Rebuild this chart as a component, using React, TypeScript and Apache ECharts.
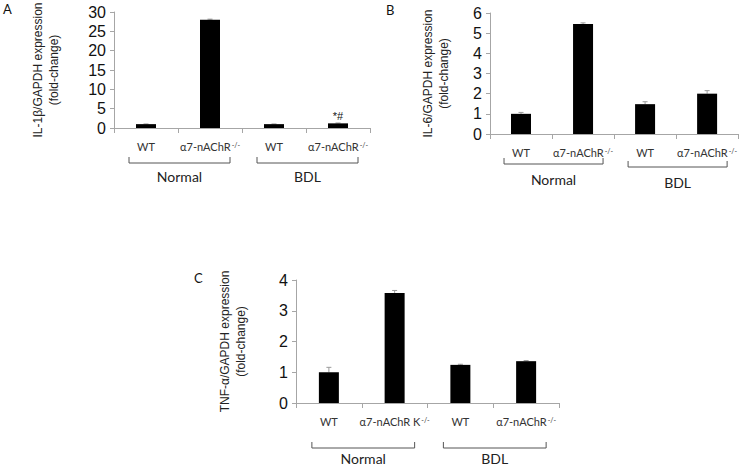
import React, { useEffect, useRef } from "react";
import * as echarts from "echarts";

// ---- data ----
const catNames = ["WT", "α7-nAChR", "WT", "α7-nAChR"];
const catNamesC = ["WT", "α7-nAChR K", "WT", "α7-nAChR"];
const groups = ["Normal", "BDL"];

const il1bValues = [1.0, 28.0, 1.0, 1.2];
const il1bErrors = [0.05, 0.15, 0.05, 0.1];
const il6Values = [1.0, 5.45, 1.48, 2.0];
const il6Errors = [0.07, 0.06, 0.12, 0.15];
const tnfValues = [1.0, 3.58, 1.24, 1.36];
const tnfErrors = [0.16, 0.08, 0.02, 0.02];

const yTicksA = { max: 30, interval: 5 };
const yTicksB = { max: 6, interval: 1 };
const yTicksC = { max: 4, interval: 1 };

const axisNames = [
  "IL-1β/GAPDH expression\n(fold-change)",
  "IL-6/GAPDH expression\n(fold-change)",
  "TNF-α/GAPDH expression\n(fold-change)",
];

const AXIS_GRAY = "#a6a6a6";
const ERR_GRAY = "#9a9a9a";

export default function App() {
  const ref = useRef<HTMLDivElement>(null);
  useEffect(() => {
    document.body.style.margin = "0";
    if (!ref.current) return;
    const chart = echarts.init(ref.current, undefined, { renderer: "svg" });

    const grids = [
      { left: 114, top: 12, width: 256, height: 116 },
      { left: 490, top: 13, width: 249, height: 121 },
      { left: 296, top: 280, width: 263, height: 123 },
    ];
    const yCfg = [yTicksA, yTicksB, yTicksC];
    const nameGaps = [52, 38, 47];
    const cats = [catNames, catNames, catNamesC];

    const xAxes = cats.map((c, i) => ({
      type: "category",
      gridIndex: i,
      data: c,
      axisLine: { lineStyle: { color: AXIS_GRAY, width: 1 } },
      axisTick: { show: true, length: 5, lineStyle: { color: AXIS_GRAY } },
      axisLabel: {
        margin: 11,
        interval: 0,
        formatter: (v: string, idx: number) =>
          idx % 2 === 1 ? `{m|${v}}{s|-/-}` : `{m|${v}}`,
        rich: {
          m: { fontSize: 11, fontFamily: "Lato", color: "#333", lineHeight: 14 },
          s: { fontSize: 7, fontFamily: "Lato", color: "#333", verticalAlign: "top", lineHeight: 14, padding: [2, 0, 0, 1] },
        },
      },
    }));

    const yAxes = yCfg.map((y, i) => ({
      type: "value",
      gridIndex: i,
      min: 0,
      max: y.max,
      interval: y.interval,
      name: axisNames[i],
      nameLocation: "middle",
      nameRotate: 90,
      nameGap: nameGaps[i],
      nameTextStyle: { fontSize: 12, fontFamily: "Liberation Sans", color: "#222", lineHeight: 16 },
      axisLine: { show: true, lineStyle: { color: AXIS_GRAY, width: 1 } },
      axisTick: { show: true, length: 4, lineStyle: { color: AXIS_GRAY } },
      splitLine: { show: false },
      axisLabel: { fontSize: 16, fontFamily: "Liberation Sans", color: "#111", margin: 8 },
    }));

    const datasets = [
      { v: il1bValues, e: il1bErrors },
      { v: il6Values, e: il6Errors },
      { v: tnfValues, e: tnfErrors },
    ];

    const series: any[] = [];
    datasets.forEach((d, i) => {
      series.push({
        type: "bar",
        xAxisIndex: i,
        yAxisIndex: i,
        barWidth: 20,
        itemStyle: { color: "#000" },
        data: d.v.map((val, j) =>
          i === 0 && j === 3
            ? {
                value: val,
                label: {
                  show: true,
                  position: "top",
                  formatter: "*#",
                  fontSize: 11,
                  fontFamily: "Liberation Sans",
                  color: "#111",
                  distance: 2,
                },
              }
            : val
        ),
        z: 2,
      });
      series.push({
        type: "custom",
        xAxisIndex: i,
        yAxisIndex: i,
        z: 1,
        data: d.v.map((val, j) => [j, val, val + d.e[j]]),
        renderItem: (_params: any, api: any) => {
          const x = api.value(0);
          const lo = api.coord([x, api.value(1)]);
          const hi = api.coord([x, api.value(2)]);
          const style = { stroke: ERR_GRAY, lineWidth: 1 };
          return {
            type: "group",
            children: [
              { type: "line", shape: { x1: lo[0], y1: lo[1], x2: hi[0], y2: hi[1] }, style },
              { type: "line", shape: { x1: hi[0] - 2.5, y1: hi[1], x2: hi[0] + 2.5, y2: hi[1] }, style },
            ],
          };
        },
      });
    });

    chart.setOption({
      animation: false,
      grid: grids,
      xAxis: xAxes,
      yAxis: yAxes,
      series,
    });

    // brackets and group labels computed from category positions
    const bracketY = [163, 164, 448];
    const groupLabelY = [176, 179, 458];
    const graphics: any[] = [];
    [0, 1, 2].forEach((gi) => {
      [0, 1].forEach((g) => {
        const c0 = chart.convertToPixel({ xAxisIndex: gi } as any, g * 2) as unknown as number;
        const c1 = chart.convertToPixel({ xAxisIndex: gi } as any, g * 2 + 1) as unknown as number;
        const xl = c0 - 17;
        const xr = c1 + 20;
        const yb = bracketY[gi] + (gi === 1 && g === 1 ? 3 : 0);
        graphics.push({
          type: "polyline",
          shape: { points: [[xl, yb - 6], [xl, yb], [xr, yb], [xr, yb - 6]] },
          style: { stroke: "#555", lineWidth: 1, fill: null },
        });
        graphics.push({
          type: "text",
          x: (xl + xr) / 2,
          y: groupLabelY[gi] + (gi === 1 && g === 1 ? 3 : 0),
          style: {
            text: groups[g],
            fontSize: 14,
            fontFamily: "Lato",
            fill: "#222",
            align: "center",
            verticalAlign: "middle",
          },
        });
      });
    });
    const letters = [
      { t: "A", x: 3, y: 2 },
      { t: "B", x: 386, y: 3 },
      { t: "C", x: 194, y: 271 },
    ];
    letters.forEach((l) =>
      graphics.push({
        type: "text",
        x: l.x,
        y: l.y,
        style: { text: l.t, fontSize: 13, fontFamily: "Lato", fill: "#111" },
      })
    );
    chart.setOption({ graphic: graphics });

    return () => chart.dispose();
  }, []);
  return <div ref={ref} style={{ width: 740, height: 466 }} />;
}
